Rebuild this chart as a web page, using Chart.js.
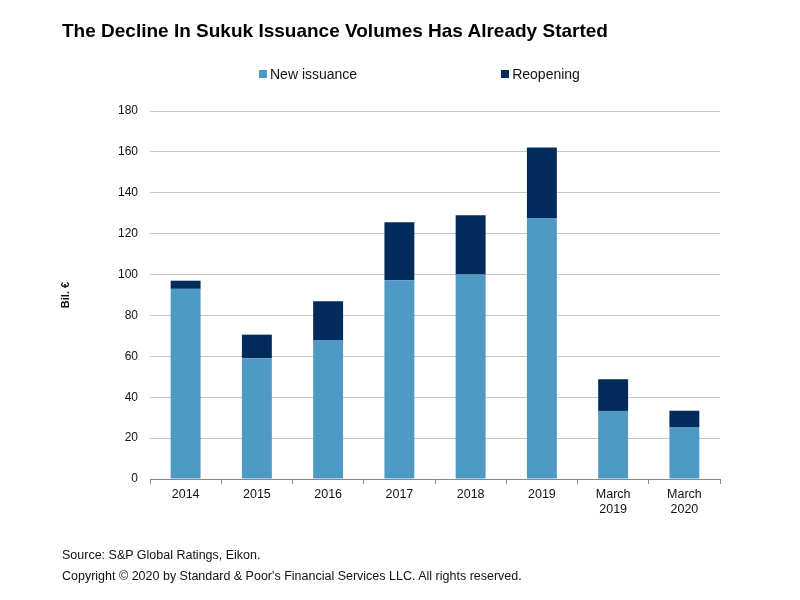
<!DOCTYPE html>
<html>
<head>
<meta charset="utf-8">
<script src="https://cdn.jsdelivr.net/npm/chart.js@4/dist/chart.umd.min.js"></script>
<style>
  body { margin: 0; background: #fff; font-family: "Liberation Sans", Arial, sans-serif; }
  #wrap { position: relative; width: 800px; height: 600px; overflow: hidden; }
  #chart { position: absolute; left: 0; top: 0; }
  .title { position: absolute; left: 62px; top: 20px; font-size: 19px; font-weight: bold; color: #000; }
  .legend { position: absolute; left: 259px; top: 66px; font-size: 14px; color: #111; display: flex; }
  .legend .item { display: flex; align-items: center; margin-right: 144px; }
  .legend .box { width: 8px; height: 8px; margin-right: 3px; }
  .foot { position: absolute; left: 62px; font-size: 12.5px; color: #111; }
</style>
</head>
<body>
<div id="wrap">
  <canvas id="chart" width="800" height="600"></canvas>
  <div class="title">The Decline In Sukuk Issuance Volumes Has Already Started</div>
  <div class="legend" id="legend"></div>
  <div class="foot" style="top:548px">Source: S&amp;P Global Ratings, Eikon.</div>
  <div class="foot" style="top:569px">Copyright © 2020 by Standard &amp; Poor's Financial Services LLC. All rights reserved.</div>
</div>
<script>
// values (bil. €)
var categories = ['2014', '2015', '2016', '2017', '2018', '2019', ['March', '2019'], ['March', '2020']];
var newIssuance = [93, 59, 67.7, 97.2, 100, 127.7, 33.3, 25.4];
var reopening = [4, 11.6, 19.2, 28.4, 29, 34.4, 15.5, 8];
var yTicks = [0, 20, 40, 60, 80, 100, 120, 140, 160, 180];

var datasets = [
  { label: 'New issuance', data: newIssuance, backgroundColor: '#4e9ac4' },
  { label: 'Reopening', data: reopening, backgroundColor: '#022b5c' }
];
datasets.forEach(function(ds) {
  ds.barPercentage = 0.42;
  ds.categoryPercentage = 1;
});

var ctx = document.getElementById('chart').getContext('2d');
var myChart = new Chart(ctx, {
  type: 'bar',
  data: { labels: categories, datasets: datasets },
  options: {
    responsive: false,
    animation: false,
    layout: { padding: { top: 111, right: 80, bottom: 0, left: 0 } },
    plugins: { legend: { display: false }, tooltip: { enabled: false } },
    scales: {
      x: {
        stacked: true,
        afterFit: function(scale) { scale.height = 121; },
        grid: { drawOnChartArea: false, drawTicks: true, tickLength: 5, color: '#8a8a8a', offset: true },
        border: { color: '#8a8a8a' },
        ticks: { color: '#111', font: { family: 'Liberation Sans', size: 12.5 }, padding: 3, maxRotation: 0, autoSkip: false }
      },
      y: {
        stacked: true,
        min: 0,
        max: 180,
        afterFit: function(scale) { scale.width = 150; },
        afterBuildTicks: function(scale) { scale.ticks = yTicks.map(function(v) { return { value: v }; }); },
        grid: { color: '#c6c6c6', drawTicks: false },
        border: { display: false },
        ticks: { color: '#111', font: { family: 'Liberation Sans', size: 12 }, padding: 12 },
        title: { display: true, text: 'Bil. €', color: '#111', font: { family: 'Liberation Sans', size: 11, weight: 'bold' }, padding: { top: 59, bottom: 0 } }
      }
    }
  }
});

// html legend built from the datasets
var legend = document.getElementById('legend');
myChart.data.datasets.forEach(function(ds) {
  var item = document.createElement('div');
  item.className = 'item';
  item.innerHTML = '<span class="box" style="background:' + ds.backgroundColor + '"></span>' + ds.label;
  legend.appendChild(item);
});
</script>
</body>
</html>
